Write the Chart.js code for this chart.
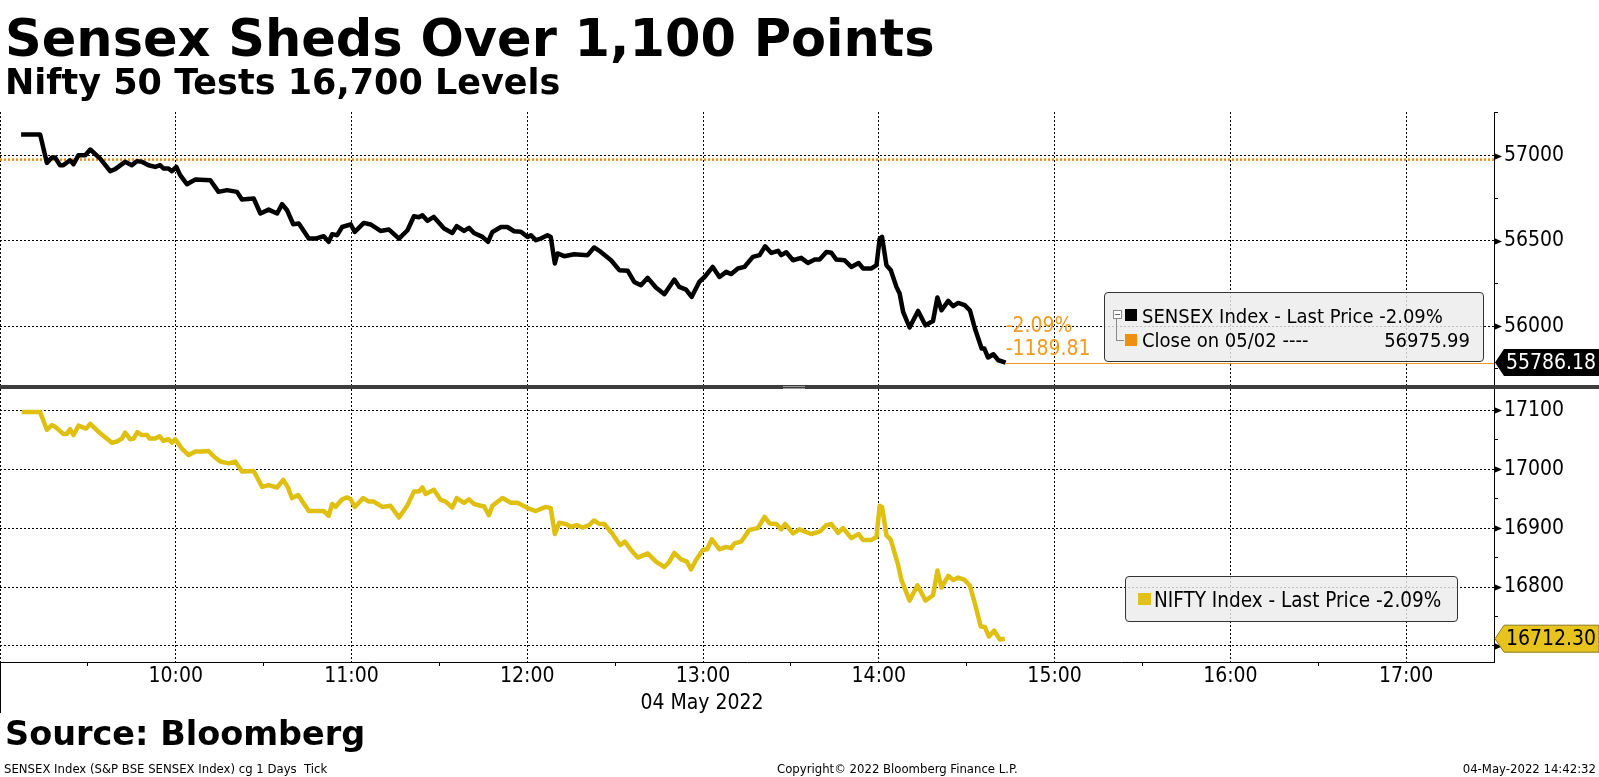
<!DOCTYPE html>
<html>
<head>
<meta charset="utf-8">
<script src="https://cdn.jsdelivr.net/npm/chart.js@4.4.0/dist/chart.umd.min.js"></script>
<style>
  body { margin: 0; background: #fff; }
  #page { position: relative; width: 1599px; height: 777px; overflow: hidden; background: #fff; }
  canvas { position: absolute; left: 0; }
  .txt { position: absolute; white-space: nowrap; line-height: 1; color: #000; }
  .bold { font-family: 'DejaVu Sans', sans-serif; font-weight: bold; }
  .cond { font-family: 'DejaVu Sans Condensed', 'DejaVu Sans', sans-serif; }
  .legend { position: absolute; box-sizing: border-box; background: rgba(236,236,236,0.82); border: 1px solid #333; border-radius: 4px; }
  .sq { position: absolute; width: 12px; height: 12px; }
</style>
</head>
<body>
<div id="page">
  <canvas id="topChart" width="1599" height="388" style="top:0"></canvas>
  <canvas id="botChart" width="1599" height="389" style="top:388px"></canvas>

  <!-- panel divider -->
  <div style="position:absolute;left:0;top:385px;width:1599px;height:4px;background:#3d3d3d"></div>
  <div style="position:absolute;left:783px;top:386px;width:22px;height:1px;background:#9a9a9a"></div>
  <div style="position:absolute;left:783px;top:388px;width:22px;height:1px;background:#9a9a9a"></div>

  <div class="txt bold" style="left:5px;top:13px;font-size:51px">Sensex Sheds Over 1,100 Points</div>
  <div class="txt bold" style="left:5px;top:65px;font-size:35px">Nifty 50 Tests 16,700 Levels</div>

  <!-- SENSEX legend -->
  <div class="legend" style="left:1104px;top:292px;width:380px;height:70px"></div>
  <div style="position:absolute;left:1113px;top:310px;width:7px;height:7px;border:1px solid #8a8a8a;background:#fff"></div>
  <div style="position:absolute;left:1115px;top:314px;width:5px;height:1px;background:#666"></div>
  <div style="position:absolute;left:1116px;top:319px;width:7px;height:21px;border-left:1px solid #8a8a8a;border-bottom:1px solid #8a8a8a"></div>
  <div class="sq" style="left:1125px;top:309px;background:#000"></div>
  <div class="txt cond" style="left:1142px;top:306px;font-size:20px">SENSEX Index - Last Price -2.09%</div>
  <div class="sq" style="left:1125px;top:334px;background:#ee8f12"></div>
  <div class="txt cond" style="left:1142px;top:330px;font-size:20px">Close on 05/02 ----</div>
  <div class="txt cond" style="right:129px;top:330px;font-size:20px">56975.99</div>

  <!-- NIFTY legend -->
  <div class="legend" style="left:1125px;top:576px;width:333px;height:46px"></div>
  <div class="sq" style="left:1138px;top:593px;width:13px;background:#e3c01c"></div>
  <div class="txt cond" style="left:1154px;top:590px;font-size:20.5px">NIFTY Index - Last Price -2.09%</div>

  <div class="txt cond" style="left:602px;top:692px;width:200px;text-align:center;font-size:21px">04 May 2022</div>
  <div class="txt bold" style="left:5px;top:717px;font-size:33.5px">Source: Bloomberg</div>
  <div class="txt cond" style="left:4px;top:762px;font-size:13px">SENSEX Index (S&amp;P BSE SENSEX Index) cg 1 Days&nbsp; Tick</div>
  <div class="txt cond" style="left:777px;top:762px;font-size:13px">Copyright© 2022 Bloomberg Finance L.P.</div>
  <div class="txt cond" style="right:3px;top:762px;font-size:13px">04-May-2022 14:42:32</div>
</div>

<script>
// minutes after 09:00
const sensexTimes = [7.2,13.7,16,17.7,18.8,20.5,21.6,23.9,25.1,26.8,29.1,30.8,34.2,37.6,39.3,42.7,45,46.7,48.4,50.7,
  53,54.7,55.8,57.5,58.7,60.2,61.5,63.8,66.7,71.8,74.6,77.5,80.9,82.6,86.6,88.9,91.7,94.6,96.3,98,
  100.1,102,105.4,107.7,110.5,112.2,113.4,115.1,116.8,119.7,121.1,124.2,126.5,129.9,132.8,136.2,139.1,141.3,143,144.2,
  145.9,148.1,151.6,154.4,155.9,158.4,160.1,161.8,164.7,166.6,168.1,171,173.2,175.5,177.8,180.1,181.2,182.9,184.6,186.9,
  188,189.4,190.3,192.6,196,200.6,202.8,205.1,208.6,211.4,214.3,216.5,218.8,221.1,223.9,226.8,230.2,231.9,234.2,236.1,
  238.7,240.5,243.3,245.6,247.9,249.6,251.9,254.1,257,259.3,261.2,263.3,265.6,266.7,268.4,270.7,273.5,275.8,278.1,279.8,
  282.1,283.8,285.5,288.3,290.6,293.1,294.6,297.5,299.2,300.3,301.1,302.6,304.1,306,307.1,308.3,310.5,313.4,315.9,318.5,
  320,321.4,323.7,325.4,327.1,329.3,331.1,332.8,335.1,336,337.3,339.1,340.8,343.3];
const sensexValues = [57123,57123,56957,56988,56988,56943,56943,56972,56949,57002,57002,57035,56982,56908,56920,56963,56943,56967,56963,56943,
  56933,56943,56924,56924,56908,56933,56885,56832,56859,56855,56787,56797,56787,56742,56748,56660,56683,56660,56715,56679,
  56597,56601,56513,56513,56527,56494,56539,56533,56581,56597,56552,56605,56596,56558,56566,56513,56562,56644,56638,56650,
  56617,56640,56572,56546,56586,56558,56576,56546,56523,56494,56552,56581,56581,56556,56553,56523,56533,56504,56513,56533,
  56523,56367,56426,56410,56421,56416,56461,56435,56386,56328,56324,56259,56240,56283,56226,56187,56273,56230,56214,56171,
  56259,56288,56347,56288,56318,56305,56338,56347,56406,56416,56468,56429,56441,56416,56433,56386,56400,56370,56390,56390,
  56435,56430,56390,56386,56347,56370,56338,56338,56357,56513,56523,56357,56328,56230,56191,56083,55992,56089,56005,56030,
  56168,56093,56148,56117,56136,56123,56093,55986,55869,55869,55816,55835,55800,55786.18];

const niftyTimes = [7.4,13.7,16,17.7,18.8,21.6,22.8,23.9,25.1,26.8,29.4,30.8,34.2,38.2,39.9,41.6,42.7,44.4,45.6,46.9,
  48.4,50.2,51,53,54.5,55.8,57.5,58.7,59.8,62.1,64.4,66.7,69,71.2,72.9,75.2,78.1,80.3,82.6,86.6,
  89.5,91.7,94.6,96.7,98.2,99.7,101.8,105.4,107.7,110.5,112.2,113.4,114.5,116.8,118.5,119.7,121.1,124,125.9,127.6,
  130.5,133.3,136.2,139.1,141.3,143,144.2,145.3,148.1,150.4,152.1,154.4,155.9,158.4,160.1,161.8,164.1,165.2,166.9,168.1,
  171.5,174.4,176.7,180.1,182.9,186.3,188,189.4,190.9,193.2,194.9,196.9,198.9,201.1,202.8,204.6,206.3,209.1,211.7,213.3,
  215.4,217.7,221.1,223.9,226.8,228.5,230.2,232.5,234.5,235.9,237.6,239.9,241.4,243,245.6,247.9,249.6,250.7,253,255.8,
  258.7,261,262.7,265,266.7,268,270.7,272.9,276.9,279.8,282.1,283.8,286.1,287.8,290.6,293.1,294.6,297.5,299.2,300.3,
  301.1,302.6,304.1,306.6,307.7,310.5,313.2,315.9,318.5,320,321.4,323.7,325.4,327.1,329.3,331.1,332.8,334.8,336.2,337.6,
  339.4,341.3,343];
const niftyValues = [17097,17097,17067,17075,17072,17060,17060,17068,17058,17074,17069,17077,17061,17045,17047,17052,17062,17051,17052,17063,
  17058,17058,17052,17052,17056,17048,17051,17045,17051,17035,17024,17030,17030,17031,17022,17013,17010,17013,16996,16997,
  16970,16973,16969,16982,16970,16951,16956,16929,16929,16929,16921,16941,16936,16949,16952,16949,16936,16951,16945,16945,
  16936,16938,16918,16939,16962,16962,16969,16958,16965,16948,16945,16935,16951,16943,16949,16941,16938,16937,16922,16938,
  16951,16943,16943,16934,16929,16936,16934,16890,16909,16907,16902,16905,16901,16905,16913,16907,16907,16890,16871,16877,
  16863,16850,16857,16843,16834,16843,16858,16847,16843,16830,16846,16863,16864,16881,16864,16868,16866,16874,16877,16897,
  16900,16919,16908,16907,16898,16907,16891,16898,16890,16894,16905,16907,16892,16900,16883,16890,16880,16880,16885,16938,
  16936,16888,16880,16837,16812,16777,16803,16777,16786,16828,16799,16819,16812,16816,16812,16802,16772,16733,16732,16716,
  16726,16711,16712.30];

const sensexPrevClose = 56975.99;

const hourTicks = [0, 60, 120, 180, 240, 300, 360, 420, 480];
const hourLabels = ['', '10:00', '11:00', '12:00', '13:00', '14:00', '15:00', '16:00', '17:00'];
const halfHourTicks = [0, 30, 60, 90, 120, 150, 180, 210, 240, 270, 300, 330, 360, 390, 420, 450, 480, 510];
const sensexTicks = [55750, 56000, 56250, 56500, 56750, 57000, 57250];
const niftyTicks = [16700, 16750, 16800, 16850, 16900, 16950, 17000, 17050, 17100];

const X_MAX = 510; // 17:30
const FONT = "'DejaVu Sans Condensed', 'DejaVu Sans', sans-serif";
const CLEAR = 'rgba(0,0,0,0)';

// last value tag, tick arrows and the change note next to the line end
const lastTag = {
  id: 'lastTag',
  afterDraw(chart, args, o) {
    const { ctx, chartArea: a, scales: { x, y } } = chart;
    ctx.save();
    ctx.fillStyle = '#000';
    y.ticks.forEach(t => {
      if (t.value % o.major !== 0) return;
      const py = Math.round(y.getPixelForValue(t.value)) + 0.5;
      ctx.beginPath();
      ctx.moveTo(a.right, py - 3.5);
      ctx.lineTo(a.right + 8, py);
      ctx.lineTo(a.right, py + 3.5);
      ctx.closePath();
      ctx.fill();
    });

    if (o.dayTick) {
      const px = Math.round(x.getPixelForValue(0)) + 0.5;
      ctx.strokeStyle = '#000';
      ctx.lineWidth = 1;
      ctx.beginPath();
      ctx.moveTo(px, a.bottom);
      ctx.lineTo(px, a.bottom + o.dayTick);
      ctx.stroke();
    }

    const lx = x.getPixelForValue(o.lastT);
    const ly = y.getPixelForValue(o.lastV);
    ctx.font = '21px ' + FONT;
    ctx.textBaseline = 'middle';

    if (o.close != null) {
      const diff = o.lastV - o.close;
      const pct = diff / o.close * 100;
      ctx.strokeStyle = o.noteColor;
      ctx.lineWidth = 1;
      ctx.beginPath();
      ctx.moveTo(lx, Math.round(ly) + 0.5);
      ctx.lineTo(a.right, Math.round(ly) + 0.5);
      ctx.stroke();
      ctx.fillStyle = o.noteColor;
      ctx.fillText(pct.toFixed(2) + '%', lx, ly - 36);
      ctx.fillText(diff.toFixed(2), lx, ly - 13);
    }

    const h = 27, r = a.right + 1;
    ctx.beginPath();
    ctx.moveTo(r, ly);
    ctx.lineTo(r + 9, ly - h / 2);
    ctx.lineTo(chart.width, ly - h / 2);
    ctx.lineTo(chart.width, ly + h / 2);
    ctx.lineTo(r + 9, ly + h / 2);
    ctx.closePath();
    ctx.fillStyle = o.tagFill;
    ctx.fill();
    if (o.tagStroke) { ctx.strokeStyle = o.tagStroke; ctx.lineWidth = 1; ctx.stroke(); }
    ctx.fillStyle = o.tagText;
    ctx.fillText(o.lastV.toFixed(2), r + 11, ly + 1);
    ctx.restore();
  }
};

function xScale(showLabels) {
  return {
    type: 'linear',
    min: 0,
    max: X_MAX,
    afterBuildTicks: s => { s.ticks = (showLabels ? halfHourTicks : hourTicks).map(v => ({ value: v })); },
    afterFit: s => {
      s.height = showLabels ? 40 : 0;
      s.paddingLeft = 0;
      s.paddingRight = 0;
    },
    ticks: {
      display: showLabels,
      autoSkip: false,
      maxRotation: 0,
      padding: 0,
      color: '#000',
      font: { family: FONT, size: 21, lineHeight: 1 },
      callback: v => {
        const i = hourTicks.indexOf(v);
        return i >= 0 ? hourLabels[i] : '';
      }
    },
    grid: {
      drawTicks: showLabels,
      tickLength: 4,
      lineWidth: 1,
      borderDash: [2, 2],
      color: c => (c.tick && c.tick.value % 60 === 0) ? '#000' : CLEAR,
      tickColor: c => (c.tick && c.tick.value % 60 !== 0 && c.tick.value < X_MAX) ? '#000' : CLEAR
    },
    border: { display: showLabels, color: '#000', width: 1, dash: [2, 2] }
  };
}

function yScale(min, max, ticks, major) {
  return {
    position: 'right',
    min: min,
    max: max,
    afterBuildTicks: s => { s.ticks = ticks.map(v => ({ value: v })); },
    afterFit: s => {
      s.width = 105;
      s.paddingTop = 0;
      s.paddingBottom = 0;
    },
    ticks: {
      autoSkip: false,
      padding: 6,
      color: '#000',
      font: { family: FONT, size: 21 },
      callback: v => v % major === 0 ? String(v) : ''
    },
    grid: {
      tickLength: 4,
      lineWidth: 1,
      borderDash: [2, 2],
      color: c => (c.tick && c.tick.value % major === 0) ? '#000' : CLEAR,
      tickColor: c => (c.tick && c.tick.value % major === 0) ? CLEAR : '#000'
    },
    border: { display: true, color: '#000', width: 1, dash: [2, 2] }
  };
}

const points = (ts, vs) => ts.map((t, i) => ({ x: t, y: vs[i] }));

new Chart(document.getElementById('topChart'), {
  type: 'line',
  data: {
    datasets: [
      { data: points(sensexTimes, sensexValues), borderColor: '#000', borderWidth: 4.5, pointRadius: 0, tension: 0, borderJoinStyle: 'round' },
      { data: [{ x: 0, y: sensexPrevClose }, { x: X_MAX, y: sensexPrevClose }], borderColor: '#e88d0e', borderWidth: 2.5, borderDash: [2, 2], pointRadius: 0 }
    ]
  },
  options: {
    responsive: false,
    animation: false,
    devicePixelRatio: 1,
    layout: { padding: { top: 112, bottom: 3, left: 0, right: 0 } },
    plugins: {
      legend: { display: false },
      tooltip: { enabled: false },
      lastTag: {
        major: 500,
        lastT: sensexTimes[sensexTimes.length - 1],
        lastV: sensexValues[sensexValues.length - 1],
        close: sensexPrevClose,
        noteColor: '#ef9b1e',
        tagFill: '#000',
        tagText: '#fff'
      }
    },
    scales: { x: xScale(false), y: yScale(55655, 57255, sensexTicks, 500) }
  },
  plugins: [lastTag]
});

new Chart(document.getElementById('botChart'), {
  type: 'line',
  data: {
    datasets: [
      { data: points(niftyTimes, niftyValues), borderColor: '#dfbf10', borderWidth: 4.5, pointRadius: 0, tension: 0, borderJoinStyle: 'round' }
    ]
  },
  options: {
    responsive: false,
    animation: false,
    devicePixelRatio: 1,
    layout: { padding: { top: 1, bottom: 75, left: 0, right: 0 } },
    plugins: {
      legend: { display: false },
      tooltip: { enabled: false },
      lastTag: {
        major: 100,
        lastT: niftyTimes[niftyTimes.length - 1],
        lastV: niftyValues[niftyValues.length - 1],
        dayTick: 51,
        tagFill: '#e6c31d',
        tagStroke: '#8a7a20',
        tagText: '#000'
      }
    },
    scales: { x: xScale(true), y: yScale(16672.7, 17136.2, niftyTicks, 100) }
  },
  plugins: [lastTag]
});
</script>
</body>
</html>
